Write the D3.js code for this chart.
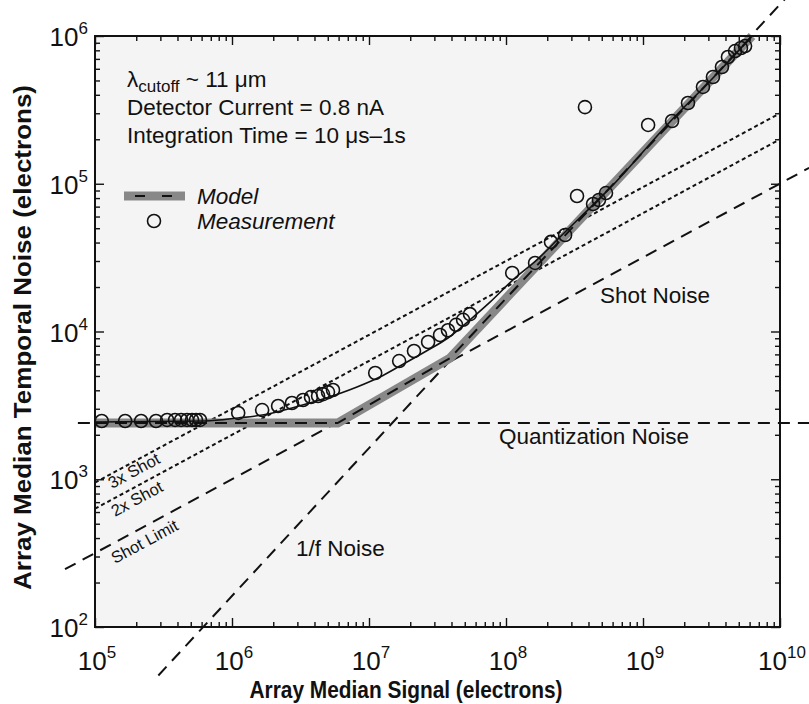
<!DOCTYPE html>
<html lang="en">

<head>
    <meta charset="UTF-8">
    <title>Array noise vs signal</title>
    <style>
        * {
            margin: 0;
            padding: 0;
        }

        html,
        body {
            overflow: hidden;
            background: #fff;
        }

        text {
            font-family: Arial, 'Liberation Sans', sans-serif;
        }
    </style>
</head>

<body>
    <div id="chart"></div>
    <script src="https://cdn.jsdelivr.net/npm/d3@7"></script>
    <script>
        // measured points (signal, noise) in electrons
        const measSignal = [1.12e5, 1.66e5, 2.17e5, 2.79e5, 3.36e5, 3.84e5, 4.25e5, 4.70e5, 5.11e5, 5.46e5, 5.84e5,
            1.11e6, 1.66e6, 2.17e6, 2.74e6, 3.30e6, 3.77e6, 4.25e6, 4.62e6, 5.02e6, 5.46e6,
            1.11e7, 1.66e7, 2.13e7, 2.70e7, 3.30e7, 3.77e7, 4.32e7, 4.86e7, 5.46e7,
            1.11e8, 1.63e8, 2.13e8, 2.70e8, 3.30e8, 4.32e8, 4.77e8, 5.37e8, 3.77e8, 1.09e9,
            1.63e9, 2.13e9, 2.74e9, 3.24e9, 3.77e9, 4.17e9, 4.70e9, 5.19e9, 5.56e9]
        const measNoise = [2480, 2480, 2480, 2480, 2520, 2520, 2520, 2520, 2520, 2520, 2520,
            2810, 2940, 3130, 3280, 3440, 3600, 3660, 3770, 3890, 4020,
            5240, 6310, 7380, 8490, 9470, 10200, 11100, 12000, 13100,
            24900, 29100, 40400, 45000, 82600, 72900, 77600, 86500, 330000, 250000,
            266000, 352000, 452000, 528000, 617000, 721000, 791000, 829000, 855000]

        // thin fitted curve through the measurement
        const fitSignal = [1e5, 6.35e5, 1.11e6, 1.66e6, 2.74e6, 4.62e6, 8.17e6, 1.20e7, 1.68e7, 2.70e7, 3.77e7,
            5.46e7, 7.64e7, 1.12e8, 1.68e8, 2.48e8, 6.04e8, 1.57e9, 3.24e9, 6.25e9]
        const fitNoise = [2440, 2480, 2600, 2720, 3040, 3490, 4210, 4920, 5840, 7490, 9040,
            12000, 15800, 22300, 30500, 43600, 98200, 262000, 520000, 1000000]

        // model (thick grey + dashes)
        const modelSignal = [1e5, 5.9e6, 3.9e7, 6.25e9]
        const modelNoise = [2400, 2400, 6600, 1000000]

        // guide lines, end points
        const quantSignal = [7.5e4, 1.7e10]
        const quantNoise = [2400, 2400]
        const shotSignal = [6.04e4, 1.63e10]
        const shotNoise = [246, 128000]
        const shot2Signal = [1e5, 1e10]
        const shot2Noise = [632, 200000]
        const shot3Signal = [1e5, 1e10]
        const shot3Noise = [949, 300000]
        const flickerSignal = [2.9e5, 1.1e10]
        const flickerNoise = [47, 1800000]

        const xDecades = [5, 6, 7, 8, 9, 10]
        const yDecades = [2, 3, 4, 5, 6]

        function drawChart() {
            const width = 809
            const height = 704
            const margin = { top: 36, right: 29, bottom: 77, left: 95 }

            const svg = d3.select('#chart')
                .append('svg')
                .attr('width', width)
                .attr('height', height)

            const x = d3.scaleLog().domain([1e5, 1e10]).range([margin.left, width - margin.right])
            const y = d3.scaleLog().domain([1e2, 1e6]).range([height - margin.bottom, margin.top])

            const x0 = margin.left, x1 = width - margin.right
            const y0 = margin.top, y1 = height - margin.bottom

            svg.append('rect')
                .attr('x', x0).attr('y', y0)
                .attr('width', x1 - x0).attr('height', y1 - y0)
                .attr('fill', '#f4f4f4')

            svg.append('clipPath').attr('id', 'plot')
                .append('rect')
                .attr('x', x0).attr('y', y0)
                .attr('width', x1 - x0).attr('height', y1 - y0)

            const line = d3.line().x(d => x(d[0])).y(d => y(d[1]))
            const pairs = (a, b) => a.map((v, i) => [v, b[i]])

            // dotted 2x / 3x shot lines (inside the frame)
            const dotted = [pairs(shot2Signal, shot2Noise), pairs(shot3Signal, shot3Noise)]
            svg.append('g').attr('clip-path', 'url(#plot)')
                .selectAll('path')
                .data(dotted)
                .join('path')
                .attr('d', line)
                .attr('fill', 'none')
                .attr('stroke', '#111')
                .attr('stroke-width', 2)
                .attr('stroke-dasharray', '4,3')

            // long dashed guides run past the frame
            const dashed = [pairs(quantSignal, quantNoise), pairs(shotSignal, shotNoise), pairs(flickerSignal, flickerNoise)]
            svg.append('g')
                .selectAll('path')
                .data(dashed)
                .join('path')
                .attr('d', line)
                .attr('fill', 'none')
                .attr('stroke', '#111')
                .attr('stroke-width', 2)
                .attr('stroke-dasharray', '12,8')

            // model
            const model = pairs(modelSignal, modelNoise)
            svg.append('path')
                .attr('d', line(model))
                .attr('fill', 'none')
                .attr('stroke', '#888')
                .attr('stroke-width', 9)
                .attr('stroke-linejoin', 'round')
            svg.append('path')
                .attr('d', line(model))
                .attr('fill', 'none')
                .attr('stroke', '#111')
                .attr('stroke-width', 2)
                .attr('stroke-dasharray', '12,8')

            // fitted curve
            svg.append('path')
                .attr('d', d3.line().curve(d3.curveMonotoneX).x(d => x(d[0])).y(d => y(d[1]))(pairs(fitSignal, fitNoise)))
                .attr('fill', 'none')
                .attr('stroke', '#111')
                .attr('stroke-width', 1.6)

            // measurement circles
            svg.append('g')
                .selectAll('circle')
                .data(pairs(measSignal, measNoise))
                .join('circle')
                .attr('cx', d => x(d[0]))
                .attr('cy', d => y(d[1]))
                .attr('r', 6.5)
                .attr('fill', 'none')
                .attr('stroke', '#111')
                .attr('stroke-width', 1.6)

            // frame + inward ticks
            const xMajor = xDecades.map(p => Math.pow(10, p))
            const yMajor = yDecades.map(p => Math.pow(10, p))
            const minorOf = majors => majors.slice(0, -1).flatMap(m => d3.range(2, 10).map(k => k * m))
            const xMinor = minorOf(xMajor)
            const yMinor = minorOf(yMajor)

            const axes = [
                [d3.axisBottom(x), y1], [d3.axisTop(x), y0]
            ]
            axes.forEach(([ax, pos]) => {
                svg.append('g').attr('transform', `translate(0,${pos})`)
                    .call(ax.tickValues(xMajor).tickSize(-9).tickFormat(''))
                svg.append('g').attr('transform', `translate(0,${pos})`)
                    .call(ax.tickValues(xMinor).tickSize(-5).tickFormat(''))
            })
            const yAxes = [
                [d3.axisLeft(y), x0], [d3.axisRight(y), x1]
            ]
            yAxes.forEach(([ax, pos]) => {
                svg.append('g').attr('transform', `translate(${pos},0)`)
                    .call(ax.tickValues(yMajor).tickSize(-9).tickFormat(''))
                svg.append('g').attr('transform', `translate(${pos},0)`)
                    .call(ax.tickValues(yMinor).tickSize(-5).tickFormat(''))
            })
            svg.selectAll('.domain').remove()
            svg.selectAll('.tick line').attr('stroke', '#111').attr('stroke-width', 1.4)

            svg.append('rect')
                .attr('x', x0).attr('y', y0)
                .attr('width', x1 - x0).attr('height', y1 - y0)
                .attr('fill', 'none')
                .attr('stroke', '#111')
                .attr('stroke-width', 2)

            // tick labels 10^n
            const xl = svg.append('g').selectAll('text')
                .data(xDecades)
                .join('text')
                .attr('x', d => x(Math.pow(10, d)) + 2)
                .attr('y', 670)
                .attr('text-anchor', 'middle')
                .attr('font-size', 26)
                .attr('fill', '#111')
            xl.append('tspan').text('10')
            xl.append('tspan').attr('dy', -12).attr('font-size', 17).text(d => d)

            const yl = svg.append('g').selectAll('text')
                .data(yDecades)
                .join('text')
                .attr('x', 88)
                .attr('y', d => y(Math.pow(10, d)) + 10)
                .attr('text-anchor', 'end')
                .attr('font-size', 26)
                .attr('fill', '#111')
            yl.append('tspan').text('10')
            yl.append('tspan').attr('dy', -12).attr('font-size', 17).text(d => d)

            // axis titles
            svg.append('text')
                .attr('x', 406)
                .attr('y', 698)
                .attr('text-anchor', 'middle')
                .attr('font-size', 24)
                .attr('font-weight', 'bold')
                .attr('fill', '#111')
                .attr('textLength', 313)
                .attr('lengthAdjust', 'spacingAndGlyphs')
                .text('Array Median Signal (electrons)')

            svg.append('text')
                .attr('transform', `translate(31,${(y0 + y1) / 2 + 6}) rotate(-90)`)
                .attr('text-anchor', 'middle')
                .attr('font-size', 24)
                .attr('font-weight', 'bold')
                .attr('fill', '#111')
                .attr('textLength', 505)
                .attr('lengthAdjust', 'spacingAndGlyphs')
                .text('Array Median Temporal Noise (electrons)')

            // annotations
            const note = svg.append('g').attr('fill', '#111').attr('font-size', 22.5)
            const t1 = note.append('text').attr('x', 127).attr('y', 87)
            t1.append('tspan').text('λ')
            t1.append('tspan').attr('font-size', 17).attr('dy', 5).text('cutoff')
            t1.append('tspan').attr('dy', -5).text(' ~ 11 μm')
            note.append('text').attr('x', 127).attr('y', 115).text('Detector Current = 0.8 nA')
            note.append('text').attr('x', 127).attr('y', 143).text('Integration Time = 10 μs–1s')

            // legend
            svg.append('line')
                .attr('x1', 124).attr('x2', 185).attr('y1', 196).attr('y2', 196)
                .attr('stroke', '#888').attr('stroke-width', 9)
            svg.append('line')
                .attr('x1', 135).attr('x2', 175).attr('y1', 196).attr('y2', 196)
                .attr('stroke', '#111').attr('stroke-width', 2).attr('stroke-dasharray', '10,17')
            svg.append('circle')
                .attr('cx', 154).attr('cy', 221).attr('r', 6.5)
                .attr('fill', 'none').attr('stroke', '#111').attr('stroke-width', 1.6)
            note.append('text').attr('x', 197).attr('y', 204).attr('font-style', 'italic').text('Model')
            note.append('text').attr('x', 197).attr('y', 229).attr('font-style', 'italic').text('Measurement')

            // line labels
            note.append('text').attr('x', 600).attr('y', 303).text('Shot Noise')
            note.append('text').attr('x', 499).attr('y', 444).text('Quantization Noise')
            note.append('text').attr('x', 296).attr('y', 556).text('1/f Noise')

            // small labels follow the slope of the shot lines
            const angle = Math.atan2(y(shot2Noise[0]) - y(shot2Noise[1]), x(shot2Signal[1]) - x(shot2Signal[0])) * 180 / Math.PI
            const small = [['3x Shot', 112, 489], ['2x Shot', 115, 517], ['Shot Limit', 115, 564]]
            small.forEach(([s, px, py]) => {
                note.append('text')
                    .attr('transform', `translate(${px},${py}) rotate(${-angle})`)
                    .attr('font-size', 16.5)
                    .text(s)
            })
        }

        drawChart()
    </script>
</body>

</html>
